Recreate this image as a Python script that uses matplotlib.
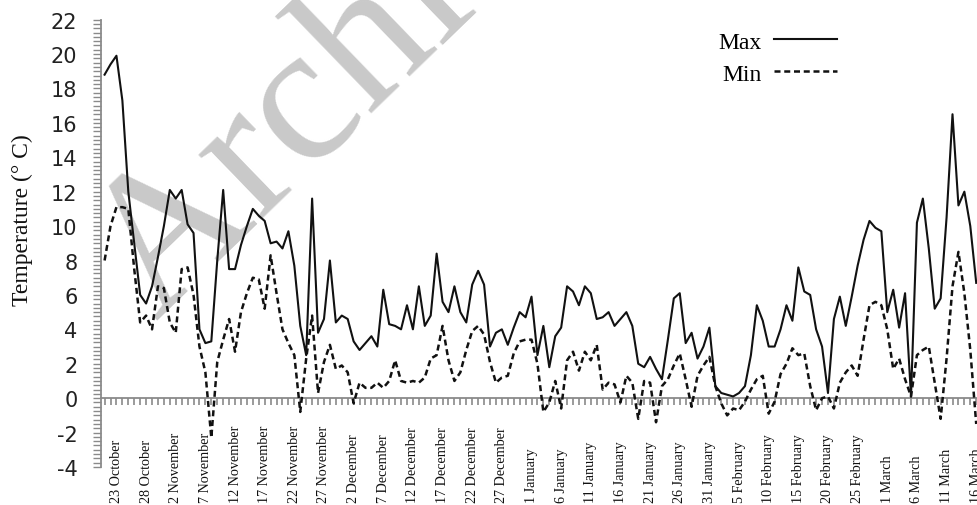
import matplotlib
matplotlib.use("Agg")
import matplotlib.pyplot as plt
import matplotlib.transforms as mtransforms
from matplotlib.ticker import MultipleLocator

plt.rcParams["axes.unicode_minus"] = False

# daily maximum / minimum air temperature, starting 21 October
tmax = [18.8, 19.4, 19.9, 17.3, 12.0, 9.0, 6.0, 5.5, 6.5, 8.2,
        10.0, 12.1, 11.6, 12.1, 10.1, 9.6, 4.0, 3.2, 3.3, 8.0,
        12.1, 7.5, 7.5, 8.9, 10.0, 11.0, 10.6, 10.3, 9.0, 9.1,
        8.7, 9.7, 7.7, 4.2, 2.5, 11.6, 3.8, 4.6, 8.0, 4.4,
        4.8, 4.6, 3.3, 2.8, 3.2, 3.6, 3.0, 6.3, 4.3, 4.2,
        4.0, 5.4, 4.0, 6.5, 4.2, 4.8, 8.4, 5.6, 5.0, 6.5,
        5.0, 4.4, 6.6, 7.4, 6.6, 3.0, 3.8, 4.0, 3.1, 4.1,
        5.0, 4.7, 5.9, 2.5, 4.2, 1.8, 3.6, 4.1, 6.5, 6.2,
        5.4, 6.5, 6.1, 4.6, 4.7, 5.0, 4.2, 4.6, 5.0, 4.2,
        2.0, 1.8, 2.4, 1.7, 1.1, 3.4, 5.8, 6.1, 3.2, 3.8,
        2.3, 3.0, 4.1, 0.7, 0.3, 0.2, 0.1, 0.3, 0.7, 2.5,
        5.4, 4.5, 3.0, 3.0, 4.0, 5.4, 4.5, 7.6, 6.2, 6.0,
        4.0, 3.0, 0.3, 4.6, 5.9, 4.2, 5.9, 7.7, 9.2, 10.3,
        9.9, 9.7, 5.0, 6.3, 4.1, 6.1, 0.1, 10.2, 11.6, 8.7,
        5.2, 5.8, 10.5, 16.5, 11.2, 12.0, 10.0, 6.7]

tmin = [8.0, 10.0, 11.1, 11.1, 11.0, 7.5, 4.4, 4.8, 4.0, 6.5,
        6.4, 4.4, 3.8, 7.5, 7.6, 6.0, 3.0, 1.5, -2.3, 2.1,
        3.4, 4.6, 2.7, 5.0, 6.1, 7.0, 6.9, 5.2, 8.3, 6.1,
        4.0, 3.2, 2.5, -0.8, 2.3, 4.8, 0.3, 2.1, 3.1, 1.7,
        1.9, 1.5, -0.3, 0.9, 0.6, 0.6, 0.9, 0.6, 1.0, 2.2,
        1.0, 0.9, 1.0, 0.9, 1.2, 2.3, 2.5, 4.2, 2.2, 1.0,
        1.5, 2.8, 3.9, 4.2, 3.7, 2.1, 0.9, 1.2, 1.3, 2.6,
        3.3, 3.4, 3.4, 2.0, -0.8, -0.25, 1.0, -0.6, 2.2, 2.7,
        1.6, 2.7, 2.2, 3.1, 0.5, 0.9, 0.8, -0.25, 1.3, 0.9,
        -1.2, 1.0, 0.9, -1.4, 0.7, 1.1, 1.9, 2.6, 1.1, -0.5,
        1.3, 1.9, 2.4, 0.7, -0.3, -1.0, -0.6, -0.7, -0.2, 0.5,
        1.1, 1.3, -0.9, -0.2, 1.4, 2.0, 2.9, 2.5, 2.6, 0.7,
        -0.7, 0.0, 0.1, -0.6, 0.9, 1.5, 1.9, 1.3, 3.4, 5.4,
        5.6, 5.4, 4.0, 1.7, 2.3, 1.1, 0.1, 2.5, 2.8, 3.0,
        0.9, -1.2, 2.3, 6.5, 8.5, 6.1, 2.8, -1.5]

# date labels, every 5th day from 23 October
date_labels = ["23 October", "28 October", "2 November", "7 November",
               "12 November", "17 November", "22 November", "27 November",
               "2 December", "7 December", "12 December", "17 December",
               "22 December", "27 December", "1 January", "6 January",
               "11 January", "16 January", "21 January", "26 January",
               "31 January", "5 February", "10 February", "15 February",
               "20 February", "25 February", "1 March", "6 March",
               "11 March", "16 March"]
first_label_day = 2  # 23 October is the third day of the record

days = list(range(len(tmax)))
axis_grey = "#8a8a8a"

fig = plt.figure(figsize=(9.78, 5.06), dpi=100)
ax = fig.add_axes([0.1033, 0.0751, 0.8967, 0.8842])

# watermark
ax.text(0.16, 0.365, "Archive of SID", transform=fig.transFigure,
        rotation=44, rotation_mode="anchor", ha="left", va="baseline",
        fontsize=142, family="Liberation Serif", color="#c9c9c9", zorder=1)

ax.plot(days, tmax, color="#111111", lw=1.5, zorder=3, label="Max")
ax.plot(days, tmin, color="#111111", lw=1.8, dashes=(2.4, 1.5), zorder=3, label="Min")

ax.set_xlim(-0.6, 147.3)
ax.set_ylim(-4, 22)

for side in ["top", "right"]:
    ax.spines[side].set_visible(False)
ax.spines["bottom"].set_position(("data", 0))
ax.spines["bottom"].set_color(axis_grey)
ax.spines["left"].set_color(axis_grey)
ax.spines["bottom"].set_linewidth(1.3)
ax.spines["left"].set_linewidth(1.3)

ax.yaxis.set_major_locator(MultipleLocator(2))
ax.yaxis.set_minor_locator(MultipleLocator(0.25))
ax.tick_params(axis="y", which="both", direction="out", length=6, width=1,
               color=axis_grey)
ax.tick_params(axis="y", which="major", labelsize=15, pad=11,
               labelcolor="#222222")
for lbl in ax.get_yticklabels():
    lbl.set_family("DejaVu Sans")

ax.xaxis.set_major_locator(MultipleLocator(1))
ax.tick_params(axis="x", which="major", direction="out", length=5, width=1.2,
               color=axis_grey, labelbottom=False)

# date labels along the bottom edge
label_tf = mtransforms.blended_transform_factory(ax.transData, fig.transFigure)
for k, lab in enumerate(date_labels):
    ax.text(first_label_day + 5 * k, 0.005, lab, transform=label_tf,
            rotation=90, ha="center", va="bottom", fontsize=10.2,
            family="Liberation Serif", color="#111111", clip_on=False)

fig.text(0.0225, 0.565, "Temperature (° C)", rotation=90, ha="center",
         va="center", fontsize=17, family="Liberation Serif", color="#111111")

leg = ax.legend(loc="upper left", bbox_to_anchor=(0.68, 1.022),
                frameon=False, markerfirst=False, handlelength=2.7,
                handletextpad=0.5, labelspacing=0.45,
                prop={"family": "Liberation Serif", "size": 17})

fig.savefig("out.png", dpi=100)
